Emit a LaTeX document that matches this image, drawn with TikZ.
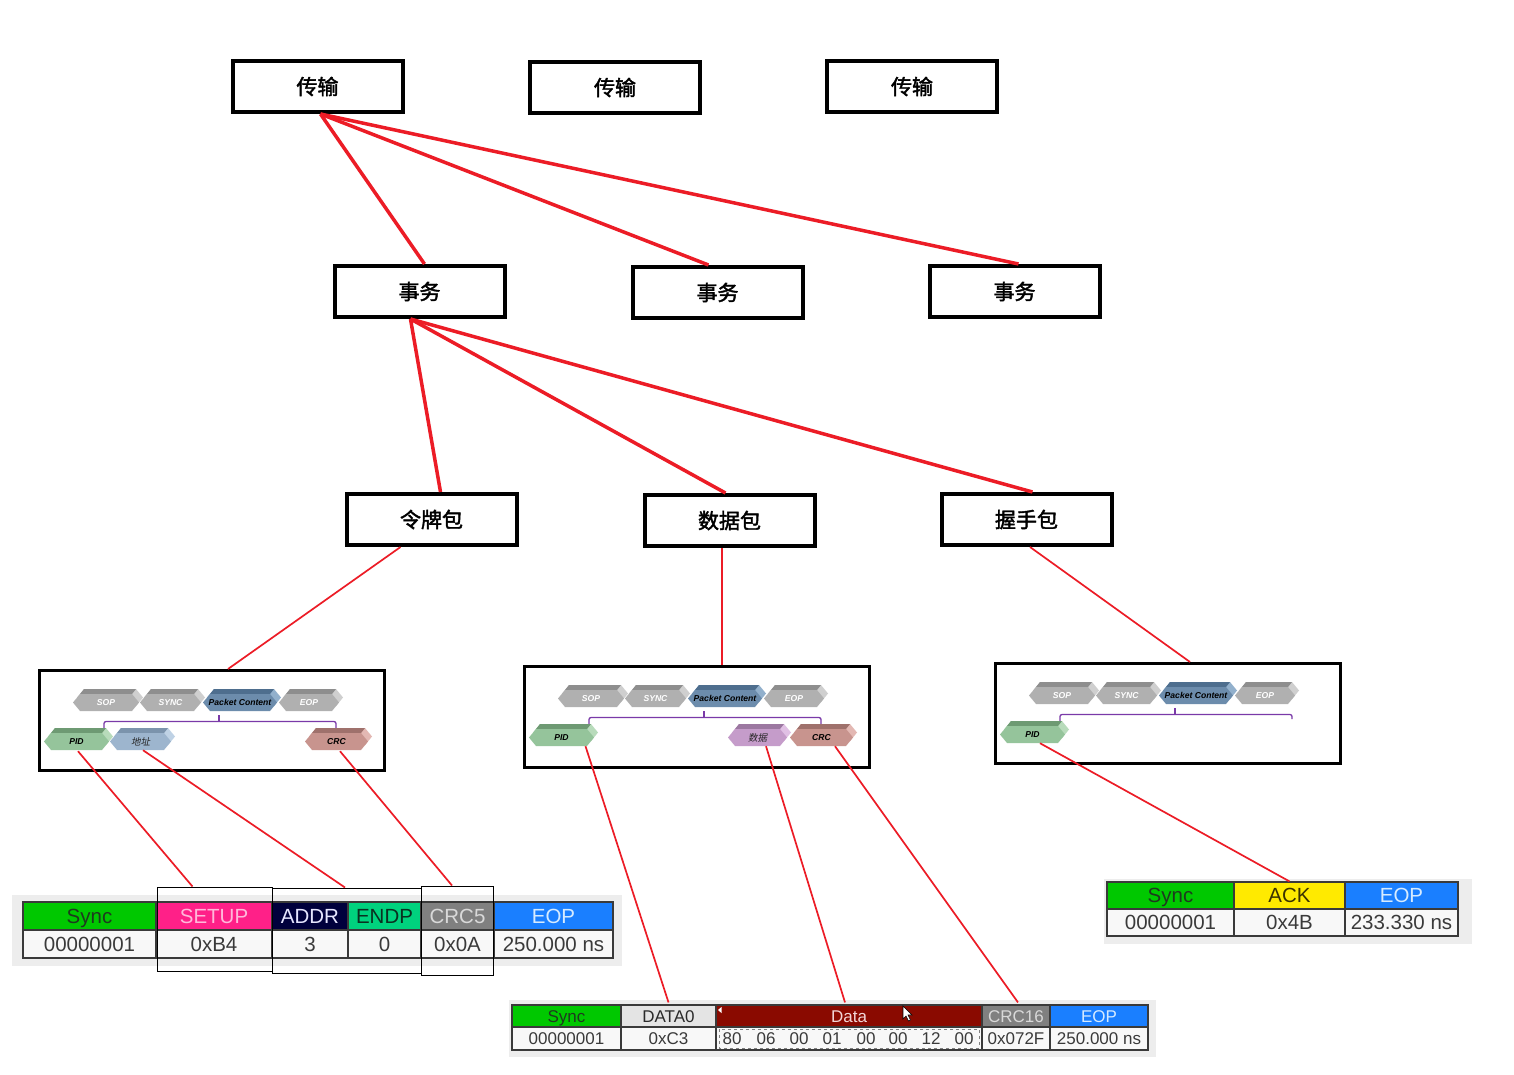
\documentclass[tikz,border=0pt]{standalone}
\usepackage{fontspec}
\setmainfont{Liberation Sans}
\newfontfamily\cjkb{Noto Sans CJK SC}[FakeBold=2]
\newfontfamily\cjki{Noto Sans CJK SC}[FakeSlant=0.2]
\usetikzlibrary{calc}
\definecolor{lred}{HTML}{EC1C26}
\definecolor{cSync}{HTML}{00C800}
\definecolor{cSyncT}{HTML}{1E3A1E}
\definecolor{cSetup}{HTML}{FF2088}
\definecolor{cSetupT}{HTML}{FFB8DA}
\definecolor{cAddr}{HTML}{00003C}
\definecolor{cAddrT}{HTML}{E6E6FF}
\definecolor{cEndp}{HTML}{00D27E}
\definecolor{cEndpT}{HTML}{0A3020}
\definecolor{cCrc}{HTML}{808080}
\definecolor{cCrcT}{HTML}{D9D9D9}
\definecolor{cEop}{HTML}{1A7FFF}
\definecolor{cEopT}{HTML}{D6EBFF}
\definecolor{cData0}{HTML}{E4E4E4}
\definecolor{cDark}{HTML}{2A2A2A}
\definecolor{cData}{HTML}{8A0A00}
\definecolor{cDataT}{HTML}{F2D6D6}
\definecolor{cAck}{HTML}{FFEA00}
\definecolor{cAckT}{HTML}{3A3200}
\definecolor{cVal}{HTML}{F8F8F8}
\definecolor{cValT}{HTML}{3A3A3A}
\definecolor{tabline}{HTML}{3A3A3A}
\definecolor{panel}{HTML}{EDEDED}
\definecolor{purp}{HTML}{7A3AA8}
% chevron palettes
\definecolor{grayF}{HTML}{B0B0B0}\definecolor{grayT}{HTML}{8E8E8E}\definecolor{grayS}{HTML}{CFCFCF}
\definecolor{blueF}{HTML}{6C8CAC}\definecolor{blueT}{HTML}{4E6E8E}\definecolor{blueS}{HTML}{92B0CC}
\definecolor{greenF}{HTML}{95C49B}\definecolor{greenT}{HTML}{6E9A73}\definecolor{greenS}{HTML}{B8DBBB}
\definecolor{lblueF}{HTML}{9DB5CE}\definecolor{lblueT}{HTML}{7B93AC}\definecolor{lblueS}{HTML}{BFD2E5}
\definecolor{pinkF}{HTML}{C8948E}\definecolor{pinkT}{HTML}{9F716C}\definecolor{pinkS}{HTML}{E3B8B3}
\definecolor{purpF}{HTML}{C59CCA}\definecolor{purpT}{HTML}{9C78A1}\definecolor{purpS}{HTML}{E0C0E4}

\tikzset{
 redthick/.style={draw=lred, line width=3.5pt},
 redthin/.style={draw=lred, line width=1.7pt},
 bigbox/.style={draw, line width=4pt, fill=white, minimum width=170, minimum height=51, inner sep=0, font=\cjkb\fontsize{21}{21}\selectfont},
 pkframe/.style={draw, line width=3pt, minimum width=345, minimum height=100, inner sep=0},
 cellb/.style={draw=tabline, line width=1.2pt, inner sep=0},
 lblw/.style={text=white, font=\bfseries\itshape\fontsize{8.6}{9}\selectfont},
 lblk/.style={text=black, font=\bfseries\itshape\fontsize{8.6}{9}\selectfont},
 lblc/.style={text=black!85, font=\cjki\fontsize{9.5}{9.5}\selectfont},
 tabA/.style={nodes={font=\fontsize{20.5}{20.5}\selectfont, text height=14.6, text depth=0}},
 tabB/.style={nodes={font=\fontsize{17}{17}\selectfont, text height=12.2, text depth=0}},
 cellframe/.style={draw=black, line width=1pt, inner sep=0},
}

% #1 name, #2 x, #3 y, #4 w, #5 palette, #6 label style, #7 label
\newcommand\chev[7]{%
 \fill[#5S] (#2+4,#3+8.5) -- (#2+11,#3) -- (#2+#4-7,#3) -- (#2+#4,#3+8.5) -- (#2+#4-7,#3+17) -- (#2+11,#3+17) -- cycle;
 \fill[#5T] (#2+7,#3+5) -- (#2+11,#3) -- (#2+#4-7,#3) -- (#2+#4-11,#3+5) -- cycle;
 \fill[#5F] (#2,#3+13.5) -- (#2+7,#3+5) -- (#2+#4-11,#3+5) -- (#2+#4-4,#3+13.5) -- (#2+#4-11,#3+22) -- (#2+7,#3+22) -- cycle;
 \node[#6, minimum width={#4-4}, minimum height=17, inner sep=0] (#1) at ({#2+(#4-4)/2},{#3+13.5}) {#7};
}
% #1 L, #2 T, #3 id
\newcommand\pkrowone[3]{%
 \chev{sop#3}{#1+35}{#2+20}{70}{gray}{lblw}{SOP}
 \chev{sync#3}{#1+102}{#2+20}{65}{gray}{lblw}{SYNC}
 \chev{pc#3}{#1+165}{#2+20}{78}{blue}{lblk}{Packet Content}
 \chev{eop#3}{#1+241}{#2+20}{64}{gray}{lblw}{EOP}
}
% #1 L, #2 T, #3 right depth
\newcommand\brk[3]{%
 \draw[purp, line width=1.3pt, rounded corners=2] (#1+66,#2+62) -- (#1+66,#2+52.5) -- (#1+298,#2+52.5) -- (#1+298,#2+#3);
 \draw[purp, line width=1.3pt] (#1+181,#2+52.5) -- (#1+181,#2+46);
}
% #1 name, #2 x0, #3 x1, #4 y0, #5 y1, #6 bg, #7 fg, #8 text
\newcommand\cell[8]{%
 \node[cellb, fill=#6, text=#7, minimum width={#3-(#2)}, minimum height={#5-(#4)}] (#1) at ({(#2+#3)/2},{(#4+#5)/2}) {#8};
}

\begin{document}
\begin{tikzpicture}[x=1pt,y=-1pt]
\useasboundingbox (0,0) rectangle (1514,1074);
\fill[white] (0,0) rectangle (1514,1074);

% ---------- hierarchy boxes ----------
\begin{scope}[every node/.style={bigbox}]
\node (a1) at (317.5,86.5) {传输};
\node (a2) at (615,87.5) {传输};
\node (a3) at (912,86.5) {传输};
\node (b1) at (419.5,291.5) {事务};
\node (b2) at (717.5,292.5) {事务};
\node (b3) at (1014.5,291.5) {\raisebox{-3pt}{事务}};
\node (c1) at (431.5,519.5) {令牌包};
\node (c2) at (729.5,520.5) {数据包};
\node (c3) at (1026.5,519.5) {握手包};
\end{scope}

\draw[redthick] ($(a1.south)+(3,0)$) -- ($(b1.north)+(5,0)$);
\draw[redthick] ($(a1.south)+(3,0)$) -- ($(b2.north)+(-9,0)$);
\draw[redthick] ($(a1.south)+(3,0)$) -- ($(b3.north)+(4,0)$);
\draw[redthick] ($(b1.south)+(-9,0)$) -- ($(c1.north)+(9,0)$);
\draw[redthick] ($(b1.south)+(-9,0)$) -- ($(c2.north)+(-4,0)$);
\draw[redthick] ($(b1.south)+(-9,0)$) -- ($(c3.north)+(6,0)$);

% ---------- packet structure frames ----------
\node[pkframe] (k1) at (212,720.5) {};
\node[pkframe, minimum height=101] (k2) at (697,717) {};
\node[pkframe] (k3) at (1168,713.5) {};

\draw[redthin] ($(c1.south)+(-31,0)$) -- ($(k1.north)+(16,0)$);
\draw[redthin] ($(c2.south)+(-7.5,0)$) -- ($(k2.north)+(25,0)$);
\draw[redthin] ($(c3.south)+(3.5,0)$) -- ($(k3.north)+(22,0)$);

% frame 1
\pkrowone{38}{669}{A}
\brk{38}{669}{62}
\chev{pidA}{38+6}{669+59}{69}{green}{lblk}{PID}
\chev{addrA}{38+72}{669+59}{65}{lblue}{lblc}{地址}
\chev{crcA}{38+267}{669+59}{67}{pink}{lblk}{CRC}
% frame 2
\pkrowone{523}{665}{B}
\brk{523}{665}{62}
\chev{pidB}{523+6}{665+59}{69}{green}{lblk}{PID}
\chev{dataB}{523+205}{665+59}{63}{purp}{lblc}{数据}
\chev{crcB}{523+267}{665+59}{67}{pink}{lblk}{CRC}
% frame 3
\pkrowone{994}{662}{C}
\brk{994}{662}{57}
\chev{pidC}{994+6}{662+59}{69}{green}{lblk}{PID}

% ---------- table 1 (token packet) ----------
\fill[panel] (12,895) rectangle (622,966);
\begin{scope}[tabA]
\cell{t1h1}{23}{156}{902}{930}{cSync}{cSyncT}{Sync}
\cell{t1h2}{156}{272}{902}{930}{cSetup}{cSetupT}{SETUP}
\cell{t1h3}{272}{348}{902}{930}{cAddr}{cAddrT}{ADDR}
\cell{t1h4}{348}{421}{902}{930}{cEndp}{cEndpT}{ENDP}
\cell{t1h5}{421}{494}{902}{930}{cCrc}{cCrcT}{CRC5}
\cell{t1h6}{494}{613}{902}{930}{cEop}{cEopT}{EOP}
\cell{t1v1}{23}{156}{930}{958}{cVal}{cValT}{00000001}
\cell{t1v2}{156}{272}{930}{958}{cVal}{cValT}{0xB4}
\cell{t1v3}{272}{348}{930}{958}{cVal}{cValT}{3}
\cell{t1v4}{348}{421}{930}{958}{cVal}{cValT}{0}
\cell{t1v5}{421}{494}{930}{958}{cVal}{cValT}{0x0A}
\cell{t1v6}{494}{613}{930}{958}{cVal}{cValT}{250.000 ns}
\end{scope}
\node[cellframe, minimum width=115, minimum height=84] (f1) at (214.5,929) {};
\node[cellframe, minimum width=149, minimum height=85] (f2) at (346.5,930.5) {};
\node[cellframe, minimum width=72, minimum height=89] (f3) at (457,930.5) {};

% ---------- table 2 (data packet) ----------
\fill[panel] (509,1000) rectangle (1156,1057);
\begin{scope}[tabB]
\cell{t2h1}{512}{621}{1005}{1027}{cSync}{cSyncT}{Sync}
\cell{t2h2}{621}{716}{1005}{1027}{cData0}{cDark}{DATA0}
\cell{t2h3}{716}{982}{1005}{1027}{cData}{cDataT}{Data}
\cell{t2h4}{982}{1050}{1005}{1027}{cCrc}{cCrcT}{CRC16}
\cell{t2h5}{1050}{1148}{1005}{1027}{cEop}{cEopT}{EOP}
\cell{t2v1}{512}{621}{1027}{1050}{cVal}{cValT}{00000001}
\cell{t2v2}{621}{716}{1027}{1050}{cVal}{cValT}{0xC3}
\cell{t2v3}{716}{982}{1027}{1050}{cVal}{cValT}{}
\cell{t2v4}{982}{1050}{1027}{1050}{cVal}{cValT}{0x072F}
\cell{t2v5}{1050}{1148}{1027}{1050}{cVal}{cValT}{250.000 ns}
\node[text=cValT] (d1) at (732,1038.5) {80};
\node[text=cValT] (d2) at (766,1038.5) {06};
\node[text=cValT] (d3) at (799,1038.5) {00};
\node[text=cValT] (d4) at (832,1038.5) {01};
\node[text=cValT] (d5) at (866,1038.5) {00};
\node[text=cValT] (d6) at (898,1038.5) {00};
\node[text=cValT] (d7) at (931,1038.5) {12};
\node[text=cValT] (d8) at (964,1038.5) {00};
\end{scope}
\draw[gray, dashed, line width=0.6pt] (719,1029) rectangle (979,1048);
\fill[white] (718,1010) -- (721.5,1007) -- (721.5,1013) -- cycle;
\filldraw[fill=white, draw=black, line width=0.6pt] (903,1006) -- (903,1019) -- (906,1016) -- (908.5,1021) -- (910.5,1020) -- (908,1015) -- (912,1015) -- cycle;

% ---------- table 3 (handshake packet) ----------
\fill[panel] (1104,879) rectangle (1472,944);
\begin{scope}[tabA]
\cell{t3h1}{1107}{1234}{882}{909}{cSync}{cSyncT}{Sync}
\cell{t3h2}{1234}{1345}{882}{909}{cAck}{cAckT}{ACK}
\cell{t3h3}{1345}{1458}{882}{909}{cEop}{cEopT}{EOP}
\cell{t3v1}{1107}{1234}{909}{936}{cVal}{cValT}{00000001}
\cell{t3v2}{1234}{1345}{909}{936}{cVal}{cValT}{0x4B}
\cell{t3v3}{1345}{1458}{909}{936}{cVal}{cValT}{233.330 ns}
\end{scope}

% ---------- field connectors ----------
\draw[redthin] ($(pidA.south)+(1.5,1)$) -- ($(f1.north)+(-22,0)$);
\draw[redthin] ($(addrA.south)+(2.5,0)$) -- ($(f2.north)+(-1.5,0)$);
\draw[redthin] ($(crcA.south)+(3.5,1)$) -- ($(f3.north)+(-5,0)$);
\draw[redthin] ($(pidB.south)+(24,0)$) -- ($(t2h2.north)+(0,-2)$);
\draw[redthin] ($(dataB.south)+(8.5,0)$) -- ($(t2h3.north)+(-4,-2)$);
\draw[redthin] ($(crcB.south)+(13.5,0)$) -- ($(t2h4.north)+(2,-2)$);
\draw[redthin] ($(pidC.south)+(7.5,0)$) -- (t3h2.north);
\end{tikzpicture}
\end{document}
